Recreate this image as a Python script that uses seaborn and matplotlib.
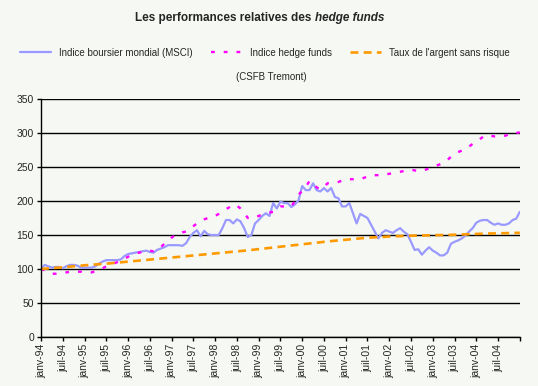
import matplotlib
matplotlib.use("Agg")
import matplotlib.pyplot as plt
from matplotlib.lines import Line2D
import seaborn as sns
import pandas as pd
import numpy as np

# monthly data, janv-94 .. janv-05
months = pd.date_range("1994-01-01", "2005-01-01", freq="MS")

msci = [100, 106, 104, 102, 103, 103, 101, 104, 106, 106, 105, 102,
        102, 102, 102, 104, 108, 111, 113, 113, 113, 113, 114, 119,
        122, 123, 124, 125, 126, 127, 125, 124, 128, 130, 132, 135,
        135, 135, 135, 134, 138, 147, 153, 157, 148, 156, 151, 150,
        150, 150, 160, 172, 172, 167, 173, 170, 160, 147, 150, 167,
        172, 178, 182, 178, 197, 189, 199, 197, 197, 191, 195, 201,
        222, 216, 216, 226, 216, 214, 219, 214, 219, 206, 204, 192,
        192, 197, 182, 167, 181, 178, 175, 165, 155, 145, 153, 157,
        155, 153, 157, 160, 155, 151, 140, 128, 129, 121, 127, 132,
        127, 124, 120, 120, 124, 137, 140, 142, 145, 149, 155, 160,
        168, 171, 172, 172, 168, 165, 167, 165, 165, 167, 172, 174, 184]

hedge = [100, 98, 95, 93, 93, 94, 95, 95, 96, 96, 96, 96,
         95, 95, 95, 97, 99, 101, 104, 106, 108, 110, 113, 115,
         118, 120, 122, 124, 125, 127, 127, 126, 128, 132, 137, 141,
         146, 150, 152, 154, 155, 159, 163, 167, 170, 173, 175, 177,
         178, 181, 185, 188, 191, 195, 193, 189, 183, 175, 174, 176,
         178, 180, 182, 183, 184, 188, 192, 192, 191, 192, 200, 209,
         215, 221, 229, 228, 220, 217, 221, 226, 227, 227, 228, 230,
         232, 232, 232, 232, 232, 234, 236, 238, 238, 238, 239, 239,
         240, 241, 242, 243, 244, 245, 246, 245, 244, 244, 246, 248,
         250, 252, 254, 256, 260, 265, 269, 272, 274, 276, 280, 284,
         287, 291, 295, 297, 296, 295, 295, 295, 296, 298, 300, 300, 301]

taux = [100, 100.4, 100.8, 101.2, 101.6, 102, 102.5, 103, 103.5, 104, 104.5, 105,
        105.4, 105.8, 106.2, 106.6, 107, 107.4, 107.8, 108.3, 108.8, 109.3, 109.8, 110.3,
        110.8, 111.3, 111.8, 112.3, 112.8, 113.3, 113.8, 114.3, 114.8, 115.3, 115.8, 116.3,
        116.8, 117.2, 117.7, 118.2, 118.7, 119.2, 119.7, 120.2, 120.7, 121.2, 121.7, 122.2,
        122.7, 123.2, 123.7, 124.2, 124.7, 125.2, 125.7, 126.2, 126.8, 127.4, 128, 128.6,
        129.2, 129.8, 130.4, 131, 131.6, 132.2, 132.8, 133.4, 134, 134.6, 135.2, 135.8,
        136.4, 137, 137.6, 138.2, 138.8, 139.4, 140, 140.5, 141, 141.5, 142, 142.5,
        143, 143.5, 144, 144.5, 145, 145.5, 146, 146.3, 146.6, 146.9, 147.2, 147.5,
        147.8, 148, 148.2, 148.4, 148.6, 148.8, 149, 149.1, 149.2, 149.3, 149.4, 149.5,
        149.6, 149.7, 149.8, 149.9, 150, 150.2, 150.4, 150.6, 150.8, 151, 151.2, 151.4,
        151.6, 151.8, 152, 152.1, 152.2, 152.3, 152.4, 152.5, 152.6, 152.8, 153, 153.1, 153.2]

labels = ["Indice boursier mondial (MSCI)", "Indice hedge funds",
          "Taux de l'argent sans risque"]
month_names = {1: "janv", 7: "juil"}

df = pd.DataFrame({"month": np.arange(len(months)),
                   labels[0]: msci, labels[1]: hedge, labels[2]: taux})

bg = "#f6f9f3"
sns.set_style("white")
plt.rcParams["font.family"] = ["Liberation Sans", "DejaVu Sans"]

fig = plt.figure(figsize=(5.38, 3.86), dpi=100, facecolor=bg)
ax = fig.add_axes([0.0762, 0.127, 0.89, 0.6165])
ax.set_facecolor(bg)

styles = {
    labels[0]: dict(color="#9999ff", lw=1.6),
    labels[1]: dict(color="#ff00ff", lw=1.7, dashes=(1.6, 3.8)),
    labels[2]: dict(color="#ff9900", lw=1.9, dashes=(3.0, 2.0)),
}
for name in labels:
    sns.lineplot(data=df, x="month", y=name, ax=ax, legend=False, **styles[name])

ax.set_ylim(0, 350)
ax.set_yticks(range(0, 351, 50))
ax.set_xlim(0, 132)
ticks = list(range(0, 133, 6))
ax.set_xticks(ticks)
tick_labels = []
for t in ticks:
    d = months[t]
    if t >= 132:
        tick_labels.append("")
    else:
        tick_labels.append(f"{month_names[d.month]}-{d.year % 100:02d}")
ax.set_xticklabels(tick_labels, rotation=90)
ax.set_xlabel("")
ax.set_ylabel("")
ax.grid(axis="y", color="black", lw=1.0)
ax.set_axisbelow(True)
for s in ["top", "right"]:
    ax.spines[s].set_visible(False)
for s in ["left", "bottom"]:
    ax.spines[s].set_color("black")
    ax.spines[s].set_linewidth(1.0)
ax.tick_params(axis="both", direction="out", length=3, width=1, color="black",
               labelsize=7.5, pad=2, bottom=True, left=True)

fig.text(0.585, 0.953, "Les performances relatives des ", ha="right", va="center",
         fontsize=8.5, fontweight="bold")
fig.text(0.585, 0.953, "hedge funds", ha="left", va="center",
         fontsize=8.5, fontweight="bold", style="italic")

handles = [Line2D([], [], **{k.replace("lw", "linewidth"): v for k, v in styles[n].items()})
           for n in labels]
fig.legend(handles, labels, loc="center", bbox_to_anchor=(0.492, 0.863), ncol=3,
           frameon=False, fontsize=7, handlelength=3.2, handletextpad=0.8,
           columnspacing=1.9)
fig.text(0.505, 0.80, "(CSFB Tremont)", ha="center", va="center", fontsize=7)

fig.savefig("out.png", dpi=100, facecolor=bg)
